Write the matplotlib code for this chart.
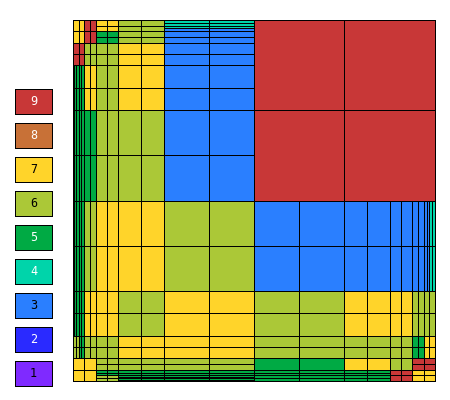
import matplotlib
matplotlib.use("Agg")
import matplotlib.pyplot as plt
from matplotlib.patches import Rectangle
from matplotlib.collections import PatchCollection

# ---- categories / colours ----
categories = [1, 2, 3, 4, 5, 6, 7, 8, 9]
colors = {1: "#7F2AFF", 2: "#2A2AFF", 3: "#2A7FFF", 4: "#00D4AA", 5: "#00AA44",
          6: "#ABC837", 7: "#FFD42A", 8: "#C87137", 9: "#C83737"}
label_colors = {1: "black", 2: "white", 3: "black", 4: "white", 5: "white",
                6: "black", 7: "black", 8: "white", 9: "white"}

# ---- partition tree (Q = quad split TL TR BL BR, V = left/right, H = top/bottom, digit = leaf) ----
strips = "V VV555 V55"
A1 = "Q [Q V77 V99 V77 V99] [Q H77 H77 H55 H55] [Q V99 V66 V99 V66] [Q6666]"
A2 = "Q [HH66H66] [HH66H66] [H77] [H77]"
A3a = "V [" + strips + "] [V77]"
A3 = "Q [" + A3a + "] [V66] [" + A3a + "] [V66]"
A = "Q [" + A1 + "] [" + A2 + "] [" + A3 + "] [Q7777]"
B1 = "H [H [HH44H43] [H33]] [H33]"
B = "Q [" + B1 + "] [" + B1 + "] [H33] [H33]"
C1 = "V [V " + strips + " V55] [V66]"
C = "Q [" + C1 + "] [V66] [" + C1 + "] [V66]"
TLq = "Q [" + A + "] [" + B + "] [" + C + "] [Q3333]"

TRq = "Q9999"

E1 = "V [V " + strips + " V66] [V77]"
E = "Q [" + E1 + "] [V77] [" + E1 + "] [V77]"
G1row = "V [V " + strips + " V77] [V77]"
G1 = "H [" + G1row + "] [" + G1row + "]"
G3r = "V [V V66 V55] [V66]"
G3c = "H [H66] [H H55 H66]"
G3 = "Q [H " + G3r + " " + G3r + "] [Q6666] [Q7777] [V " + G3c + " " + G3c + "]"
c2 = "H [H66] [H [H55] [H H55 H55]]"
G4 = "H [Q7777] [V " + c2 + " " + c2 + "]"
G = "Q [" + G1 + "] [Q6666] [" + G3 + "] [" + G4 + "]"
Hx = "H [H77] [" + c2 + "]"
Hb = "Q [H77] [H77] [" + Hx + "] [" + Hx + "]"
BLq = "Q [" + E + "] [Q6666] [" + G + "] [" + Hb + "]"

J2 = "V [V33] [V [V33] [V [V33] [V44]]]"
J = "Q [V33] [" + J2 + "] [V33] [" + J2 + "]"
Kb = "H [H66] [H [5] [H H55 H55]]"
K = "Q [H66] [H66] [" + Kb + "] [" + Kb + "]"
L2 = "V [Q7777] [H [V V66 V66] [V V66 V66]]"
L3 = "H [Q6666] [H [V77] [V [H H55 H55] [H H55 H55]]]"
L4 = "Q [Q6666] [V Q5555 Q7777] [H V66 Q9999] [H Q9999 Q7777]"
L = "Q [Q7777] [" + L2 + "] [" + L3 + "] [" + L4 + "]"
BRq = "Q [Q3333] [" + J + "] [" + K + "] [" + L + "]"

tree = "Q [" + TLq + "] [" + TRq + "] [" + BLq + "] [" + BRq + "]"


def parse(tokens, i, x, y, w, h, out):
    c = tokens[i]
    if c.isdigit():
        out.append((x, y, w, h, int(c)))
        return i + 1
    i += 1
    if c == "Q":
        hw, hh = w / 2, h / 2
        for (dx, dy) in [(0, 0), (hw, 0), (0, hh), (hw, hh)]:
            i = parse(tokens, i, x + dx, y + dy, hw, hh, out)
    elif c == "V":
        i = parse(tokens, i, x, y, w / 2, h, out)
        i = parse(tokens, i, x + w / 2, y, w / 2, h, out)
    elif c == "H":
        i = parse(tokens, i, x, y, w, h / 2, out)
        i = parse(tokens, i, x, y + h / 2, w, h / 2, out)
    return i


tokens = [t for t in tree if t not in " []"]
leaves = []
parse(tokens, 0, 0.0, 0.0, 1.0, 1.0, leaves)

LW = 0.72  # one pixel at 100 dpi

fig = plt.figure(figsize=(4.5, 4.0), dpi=100)
ax = fig.add_axes([73 / 450, 19 / 400, 362 / 450, 361 / 400])
ax.set_xlim(0, 1)
ax.set_ylim(1, 0)
ax.axis("off")

faces = [Rectangle((x, y), w, h) for (x, y, w, h, v) in leaves]
fc = [colors[v] for (x, y, w, h, v) in leaves]
ax.add_collection(PatchCollection(faces, facecolors=fc, edgecolors="none", linewidths=0))
edges = [Rectangle((x, y), w, h) for (x, y, w, h, v) in leaves]
ax.add_collection(PatchCollection(edges, facecolors="none", edgecolors="black",
                                  linewidths=LW, antialiased=False))
ax.add_patch(Rectangle((0, 0), 1, 1, facecolor="none", edgecolor="black", linewidth=LW,
                       clip_on=False, antialiased=False))

# ---- legend ----
lax = fig.add_axes([0, 0, 73 / 450, 1])
lax.set_xlim(0, 73)
lax.set_ylim(400, 0)
lax.axis("off")
for k in categories:
    top = 89.3 + (9 - k) * 34
    lax.add_patch(Rectangle((15.3, top), 36.4, 25, facecolor=colors[k], edgecolor="black",
                            linewidth=LW, antialiased=False))
    lax.text(15.3 + 18.2, top + 12.5, str(k), ha="center", va="center", fontsize=8.5,
             color=label_colors[k], family="DejaVu Sans Mono")

fig.savefig("out.png", dpi=100)
